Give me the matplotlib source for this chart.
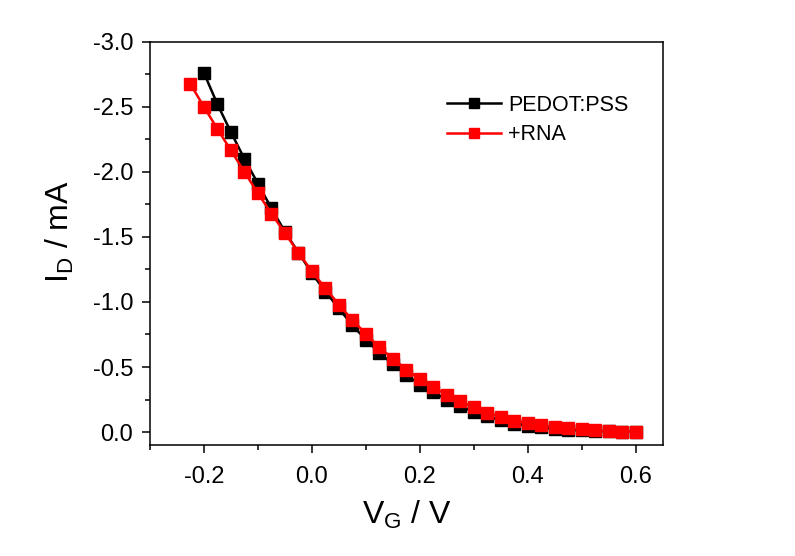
import numpy as np
import matplotlib
matplotlib.use("Agg")
import matplotlib.pyplot as plt
from matplotlib.ticker import MultipleLocator

plt.rcParams['font.family'] = ['Liberation Sans', 'DejaVu Sans']
plt.rcParams['mathtext.default'] = 'regular'

# gate voltage (V) and drain current (mA)
vg_pedot = [-0.2, -0.175, -0.15, -0.125, -0.1, -0.075, -0.05, -0.025,
            0.0, 0.025, 0.05, 0.075, 0.1, 0.125, 0.15, 0.175, 0.2, 0.225,
            0.25, 0.275, 0.3, 0.325, 0.35, 0.375, 0.4, 0.425, 0.45, 0.475,
            0.5, 0.525, 0.55, 0.575, 0.6]
id_pedot = [-2.76, -2.52, -2.305, -2.10, -1.91, -1.72, -1.54, -1.38,
            -1.22, -1.08, -0.95, -0.82, -0.71, -0.61, -0.52, -0.44, -0.365, -0.305,
            -0.25, -0.20, -0.155, -0.12, -0.09, -0.065, -0.05, -0.035, -0.025, -0.018,
            -0.012, -0.008, -0.005, -0.003, -0.002]

vg_rna = [-0.225, -0.2, -0.175, -0.15, -0.125, -0.1, -0.075, -0.05, -0.025,
          0.0, 0.025, 0.05, 0.075, 0.1, 0.125, 0.15, 0.175, 0.2, 0.225,
          0.25, 0.275, 0.3, 0.325, 0.35, 0.375, 0.4, 0.425, 0.45, 0.475,
          0.5, 0.525, 0.55, 0.575, 0.6]
id_rna = [-2.675, -2.50, -2.33, -2.165, -2.0, -1.835, -1.68, -1.53, -1.38,
          -1.235, -1.105, -0.98, -0.86, -0.755, -0.65, -0.565, -0.48, -0.405, -0.345,
          -0.285, -0.235, -0.19, -0.15, -0.115, -0.087, -0.072, -0.054, -0.036, -0.028,
          -0.02, -0.013, -0.005, -0.003, -0.002]

xticks = [-0.2, 0.0, 0.2, 0.4, 0.6]
yticks = [-3.0, -2.5, -2.0, -1.5, -1.0, -0.5, 0.0]

fig = plt.figure(figsize=(7.95, 5.56), dpi=100)
ax = fig.add_axes([0.1887, 0.1996, 0.645, 0.725])

ax.plot(vg_pedot, id_pedot, color='black', lw=1.8, marker='s', ms=9,
        mec='black', label='PEDOT:PSS')
ax.plot(vg_rna, id_rna, color='red', lw=1.8, marker='s', ms=9,
        mec='red', label='+RNA')

ax.set_xlim(-0.3, 0.65)
ax.set_ylim(0.1, -3.0)
ax.xaxis.set_minor_locator(MultipleLocator(0.1))
ax.yaxis.set_minor_locator(MultipleLocator(0.25))
ax.set_xticks(xticks)
ax.set_xticklabels([f'{v:.1f}' for v in xticks])
ax.set_yticks(yticks)
ax.set_yticklabels([f'{v:.1f}' for v in yticks])
ax.tick_params(which='both', direction='out', top=False, right=False,
               width=1.1, labelsize=17)
ax.tick_params(which='major', length=6)
ax.tick_params(which='minor', length=3.5)
ax.tick_params(axis='x', pad=9)
ax.tick_params(axis='y', pad=6)
for s in ax.spines.values():
    s.set_linewidth(1.1)

ax.set_xlabel('V$_G$ / V', fontsize=23, labelpad=8)
ax.set_ylabel('I$_D$ / mA', fontsize=23)
ax.yaxis.set_label_coords(-0.145, 0.53)

ax.legend(loc='upper left', bbox_to_anchor=(0.562, 0.89), frameon=False,
          fontsize=15.5, markerscale=0.8, handlelength=2.5, labelspacing=0.4,
          handletextpad=0.35, borderaxespad=0)

fig.savefig('out.png', dpi=100)
